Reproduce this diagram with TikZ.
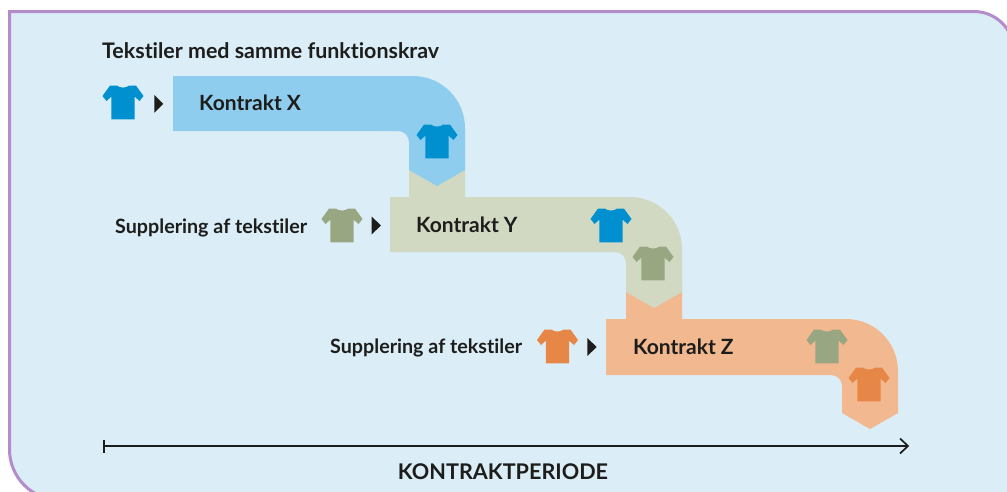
\documentclass[tikz,border=0pt]{standalone}
\usepackage{fontspec}
\setmainfont{Lato}[BoldFont={Lato Bold},Ligatures=NoCommon]
\definecolor{bgc}{HTML}{DBEDF6}
\definecolor{purp}{HTML}{B48CCB}
\definecolor{xfill}{HTML}{8FCDEE}
\definecolor{yfill}{HTML}{D1D9C2}
\definecolor{zfill}{HTML}{F2B890}
\definecolor{tblue}{HTML}{0090D0}
\definecolor{tolive}{HTML}{99A682}
\definecolor{torange}{HTML}{E78747}
\definecolor{ink}{HTML}{1D1D1B}
\tikzset{
  x=1pt,y=-1pt,
  tee/.pic={\fill[pic actions] (-6,0.6) .. controls (-3,3.2) and (3,3.2) .. (6,0.6)
     -- (13,0.6) -- (20.5,11) -- (16.5,16) -- (11.7,11.7) -- (11.7,34.3) -- (-11.7,34.3)
     -- (-11.7,11.7) -- (-16.5,16) -- (-20.5,11) -- (-13,0.6) -- cycle;},
  label text/.style={text=ink,inner sep=0pt,font=\fontsize{21}{24}\selectfont\bfseries,anchor=base west},
  head text/.style={text=ink,inner sep=0pt,font=\fontsize{21.4}{24}\selectfont\bfseries,anchor=base west},
  sub text/.style={text=ink,inner sep=0pt,font=\fontsize{19.7}{24}\selectfont\bfseries,anchor=base west},
  period text/.style={text=ink,inner sep=0pt,font=\fontsize{21.6}{24}\selectfont\bfseries,anchor=base},
  marker/.style={fill=ink},
}
\begin{document}
\begin{tikzpicture}
\useasboundingbox (0,0) rectangle (1007,491);
\fill[white] (0,0) rectangle (1007,491);
\begin{scope}
\clip (0,0) rectangle (1007,491);
\path[fill=bgc,draw=purp,line width=3pt]
  (9.5,11.5) -- (974,11.5) arc[start angle=90,end angle=0,x radius=40,y radius=-40]
  -- (1014,500) -- (60,500) arc[start angle=270,end angle=180,x radius=50.5,y radius=-50.5] -- cycle;
\end{scope}
% Z
\fill[zfill] (626,285) -- (682,285) -- (682,319) -- (846,319)
  arc[start angle=90,end angle=0,radius=52,y radius=-52] -- (898,413) -- (870,429) -- (842,413)
  -- (842,386) arc[start angle=0,end angle=90,x radius=11,y radius=-11] -- (606,375) -- (606,319) -- (626,319) -- cycle;
% Y
\fill[yfill] (409,165) -- (465,165) -- (465,197) -- (630,197)
  arc[start angle=90,end angle=0,radius=52,y radius=-52] -- (682,292) -- (654,308) -- (626,292)
  -- (626,263) arc[start angle=0,end angle=90,x radius=11,y radius=-11] -- (390,252) -- (390,197) -- (409,197) -- cycle;
% X
\fill[xfill] (173,76) -- (413,76)
  arc[start angle=90,end angle=0,radius=52,y radius=-52] -- (465,170) -- (437,186) -- (409,170)
  -- (409,142) arc[start angle=0,end angle=90,x radius=11,y radius=-11] -- (173,131) -- cycle;
\pic[fill=tblue] at (123,85) {tee};
\pic[fill=tblue] at (437,124) {tee};
\pic[fill=tolive] at (342,208) {tee};
\pic[fill=tblue] at (611,208) {tee};
\pic[fill=tolive] at (653,246) {tee};
\pic[fill=torange] at (557.5,329) {tee};
\pic[fill=tolive] at (827,329) {tee};
\pic[fill=torange] at (869,367) {tee};
\fill[marker] (154.3,95) -- (163.3,103.8) -- (154.3,112.7) -- cycle;
\fill[marker] (371.7,216.7) -- (381,225.5) -- (371.7,234.3) -- cycle;
\fill[marker] (587.3,338) -- (596.7,347) -- (587.3,356) -- cycle;
\node[head text] (title) at (102,58) {Tekstiler med samme funktionskrav};
\node[label text] (kx) at (199,110.5) {Kontrakt X};
\node[label text] (ky) at (416,232.5) {Kontrakt Y};
\node[label text] (kz) at (633,354) {Kontrakt Z};
\node[sub text] (s1) at (115,233) {Supplering af tekstiler};
\node[sub text] (s2) at (330,353) {Supplering af tekstiler};
\node[period text] (per) at (503,479) {KONTRAKTPERIODE};
\coordinate (a0) at (104,446);
\coordinate (a1) at (908,446);
\draw[ink,line width=1.5pt] (a0) -- (a1);
\draw[ink,line width=1.5pt] (104,439.5) -- (104,452.5);
\draw[ink,line width=1.7pt] (900,438.5) -- (908,446) -- (900,453.5);
\end{tikzpicture}
\end{document}
